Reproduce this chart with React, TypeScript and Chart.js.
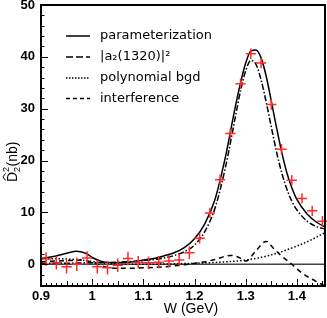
import React, { useEffect, useRef } from "react";
import { Chart, registerables } from "chart.js";

Chart.register(...registerables);

// measured data points
const dataW = [0.91, 0.93, 0.95, 0.97, 0.99, 1.01, 1.03, 1.05, 1.07, 1.09, 1.11, 1.13, 1.15, 1.17, 1.19, 1.21, 1.23, 1.25, 1.27, 1.29, 1.31, 1.33, 1.35, 1.37, 1.39, 1.41, 1.43, 1.45];
const dataVal = [1.0, 0.3, -0.5, 0.0, 1.2, -0.5, -0.7, -0.2, 1.1, 0.4, 0.3, 0.4, 0.6, 0.8, 2.2, 5.0, 9.9, 16.3, 25.2, 34.8, 40.6, 38.8, 30.8, 22.2, 16.2, 12.7, 10.3, 8.3];
const dataErr = [1.3, 1.3, 1.3, 1.3, 1.3, 1.3, 1.3, 1.3, 1.3, 1.2, 1.2, 1.2, 1.2, 1.2, 1.2, 1.0, 1.0, 1.0, 1.0, 1.0, 1.0, 1.0, 1.0, 1.0, 1.0, 1.0, 1.0, 1.0];
const wErr = 0.01;

// parameterization (solid)
const fitW = [0.9, 0.93, 0.95, 0.97, 0.99, 1.0, 1.02, 1.04, 1.06, 1.08, 1.1, 1.12, 1.14, 1.16, 1.18, 1.2, 1.22, 1.24, 1.26, 1.28, 1.29, 1.3, 1.31, 1.32, 1.33, 1.34, 1.35, 1.36, 1.37, 1.38, 1.39, 1.4, 1.42, 1.44, 1.455];
const fitVal = [1.1, 1.6, 2.1, 2.5, 2.0, 1.3, 0.5, 0.3, 0.35, 0.5, 0.8, 1.1, 1.6, 2.2, 3.2, 4.9, 7.8, 12.5, 20.5, 30.5, 35.0, 38.8, 41.1, 41.3, 39.8, 36.3, 31.5, 26.5, 21.8, 17.8, 14.8, 12.5, 9.7, 8.0, 7.2];

// |a2(1320)|^2 (dash-dot)
const a2W = [0.9, 0.95, 1.0, 1.05, 1.1, 1.14, 1.18, 1.2, 1.22, 1.24, 1.26, 1.28, 1.29, 1.3, 1.31, 1.32, 1.33, 1.34, 1.35, 1.36, 1.37, 1.38, 1.39, 1.4, 1.42, 1.44, 1.455];
const a2Val = [0.2, 0.2, 0.3, 0.4, 0.7, 1.2, 2.4, 3.7, 6.3, 10.8, 18.5, 28.5, 33.5, 37.3, 39.3, 38.6, 35.6, 31.3, 26.5, 21.8, 17.8, 14.6, 12.2, 10.5, 8.3, 7.2, 6.8];

// polynomial bgd (dotted)
const bgdW = [0.9, 0.95, 0.98, 1.0, 1.03, 1.06, 1.1, 1.15, 1.2, 1.25, 1.3, 1.35, 1.4, 1.43, 1.455];
const bgdVal = [1.1, 1.0, 0.8, 0.5, 0.15, 0.0, 0.0, 0.05, 0.2, 0.4, 0.8, 1.8, 3.5, 4.8, 6.1];

// interference (dashed)
const intW = [0.9, 0.95, 0.98, 1.0, 1.03, 1.06, 1.1, 1.14, 1.18, 1.21, 1.24, 1.27, 1.285, 1.3, 1.32, 1.34, 1.355, 1.37, 1.39, 1.41, 1.43, 1.455];
const intVal = [0.5, 0.7, 0.8, 0.4, -0.6, -0.8, -0.7, -0.5, -0.1, 0.3, 0.9, 1.7, 1.4, 0.6, 2.6, 4.4, 3.0, 1.6, 0.0, -1.7, -2.9, -4.2];

const xTicks = [0.9, 1.0, 1.1, 1.2, 1.3, 1.4];
const yTicks = [0, 10, 20, 30, 40, 50];
const legendLabels = ["parameterization", "|a\u2082(1320)|\u00B2", "polynomial bgd", "interference"];
const legendDash = [[], [7, 3], [1.5, 1.5], [4, 3]];
const xTitle = "W (GeV)";

const overlay = {
  id: "overlay",
  beforeDatasetsDraw(chart: any) {
    const { ctx, chartArea: a, scales } = chart;
    const y0 = scales.y.getPixelForValue(0);
    ctx.save();
    ctx.strokeStyle = "#444";
    ctx.lineWidth = 1.6;
    ctx.beginPath();
    ctx.moveTo(a.left, y0);
    ctx.lineTo(a.right, y0);
    ctx.stroke();
    ctx.restore();
  },
  afterDatasetsDraw(chart: any) {
    const { ctx, chartArea: a, scales } = chart;
    const xs = scales.x;
    const ys = scales.y;
    ctx.save();
    // data crosses
    ctx.strokeStyle = "#ff2a2a";
    ctx.lineWidth = 1.5;
    ctx.beginPath();
    dataW.forEach((w, i) => {
      const v = dataVal[i];
      const px = xs.getPixelForValue(w);
      const py = ys.getPixelForValue(v);
      ctx.moveTo(xs.getPixelForValue(w - wErr), py);
      ctx.lineTo(xs.getPixelForValue(w + wErr), py);
      ctx.moveTo(px, ys.getPixelForValue(v - dataErr[i]));
      ctx.lineTo(px, ys.getPixelForValue(v + dataErr[i]));
    });
    ctx.stroke();

    // frame
    ctx.strokeStyle = "#000";
    ctx.lineWidth = 2;
    ctx.strokeRect(a.left, a.top, a.right - a.left, a.bottom - a.top);

    // ticks x
    ctx.lineWidth = 1;
    ctx.beginPath();
    for (let i = 0; i <= 55; i++) {
      const v = 0.9 + i * 0.01;
      const px = Math.round(xs.getPixelForValue(v)) + 0.5;
      const len = i % 10 === 0 ? 7 : i % 5 === 0 ? 5 : 3;
      ctx.moveTo(px, a.bottom);
      ctx.lineTo(px, a.bottom - len);
    }
    // ticks y
    for (let v = -4; v <= 50; v += 2) {
      const py = Math.round(ys.getPixelForValue(v)) + 0.5;
      const len = v % 10 === 0 ? 7 : 3.5;
      ctx.moveTo(a.left, py);
      ctx.lineTo(a.left + len, py);
    }
    ctx.stroke();

    // legend
    ctx.fillStyle = "#000";
    ctx.font = "13px 'DejaVu Sans'";
    ctx.textBaseline = "middle";
    ctx.textAlign = "left";
    const rows = [36, 57, 78, 98.5];
    legendLabels.forEach((lab, i) => {
      ctx.setLineDash(legendDash[i]);
      ctx.lineWidth = 1.5;
      ctx.beginPath();
      ctx.moveTo(66, rows[i]);
      ctx.lineTo(90, rows[i]);
      ctx.stroke();
      ctx.setLineDash([]);
      ctx.fillText(lab, 100, rows[i]);
    });

    // x title
    ctx.font = "14px 'Liberation Sans'";
    ctx.textAlign = "center";
    ctx.fillText(xTitle, 191, 309);

    // y title: D-hat with sub/superscript 2, then (nb)
    ctx.translate(17, 182);
    ctx.rotate(-Math.PI / 2);
    ctx.textAlign = "left";
    ctx.textBaseline = "alphabetic";
    ctx.font = "14px 'Liberation Sans'";
    const wD = ctx.measureText("D").width;
    ctx.fillText("D", 0, 0);
    ctx.lineWidth = 1;
    ctx.beginPath();
    ctx.moveTo(1.5, -11.5);
    ctx.lineTo(wD / 2, -14);
    ctx.lineTo(wD - 1.5, -11.5);
    ctx.stroke();
    ctx.font = "9px 'Liberation Sans'";
    const w2 = ctx.measureText("2").width;
    ctx.fillText("2", wD, 3);
    ctx.fillText("2", wD, -8);
    ctx.font = "14px 'Liberation Sans'";
    ctx.fillText("(nb)", wD + w2 + 0.5, 0);
    ctx.restore();
  },
};

export default function App() {
  const ref = useRef<HTMLCanvasElement>(null);
  useEffect(() => {
    const canvas = ref.current!;
    const mk = (xs: number[], ys: number[]) => xs.map((x, i) => ({ x, y: ys[i] }));
    const line = (label: string, xs: number[], ys: number[], dash: number[]) => ({
      label,
      data: mk(xs, ys),
      showLine: true,
      borderColor: "#000",
      backgroundColor: "#000",
      borderWidth: 1.5,
      borderDash: dash,
      pointRadius: 0,
      cubicInterpolationMode: "monotone",
      fill: false,
    });
    const tickFont = { family: "'Liberation Sans'", size: 13, weight: "bold" };
    const chart = new Chart(canvas, {
      type: "scatter",
      data: {
        datasets: [
          line(legendLabels[2], bgdW, bgdVal, [1.5, 2]),
          line(legendLabels[3], intW, intVal, [5, 4]),
          line(legendLabels[1], a2W, a2Val, [6, 2, 1.5, 2]),
          line(legendLabels[0], fitW, fitVal, []),
        ] as any,
      },
      options: {
        responsive: false,
        animation: false,
        devicePixelRatio: 1,
        layout: { padding: { top: 5, right: 2, left: 0, bottom: 0 } },
        plugins: { legend: { display: false }, tooltip: { enabled: false } },
        scales: {
          x: {
            type: "linear",
            min: 0.9,
            max: 1.455,
            afterFit: (s: any) => { s.height = 32; s.paddingLeft = 0; s.paddingRight = 0; },
            afterBuildTicks: (s: any) => { s.ticks = xTicks.map((v) => ({ value: v })); },
            grid: { display: false, drawTicks: false },
            border: { display: false },
            ticks: {
              padding: 3,
              color: "#000",
              font: tickFont,
              maxRotation: 0,
              autoSkip: false,
              callback: (v: any) => String(Math.round(Number(v) * 10) / 10),
            },
          },
          y: {
            type: "linear",
            min: -4.2,
            max: 50,
            afterFit: (s: any) => { s.width = 41; s.paddingTop = 0; s.paddingBottom = 0; },
            afterBuildTicks: (s: any) => { s.ticks = yTicks.map((v) => ({ value: v })); },
            grid: { display: false, drawTicks: false },
            border: { display: false },
            ticks: {
              padding: 6,
              color: "#000",
              font: tickFont,
              autoSkip: false,
              callback: (v: any) => String(v),
            },
          },
        },
      } as any,
      plugins: [overlay],
    });
    return () => chart.destroy();
  }, []);
  return (
    <div style={{ position: "absolute", left: 0, top: 0, width: 327, height: 318, background: "#fff" }}>
      <canvas ref={ref} width={327} height={318} style={{ display: "block" }} />
    </div>
  );
}
